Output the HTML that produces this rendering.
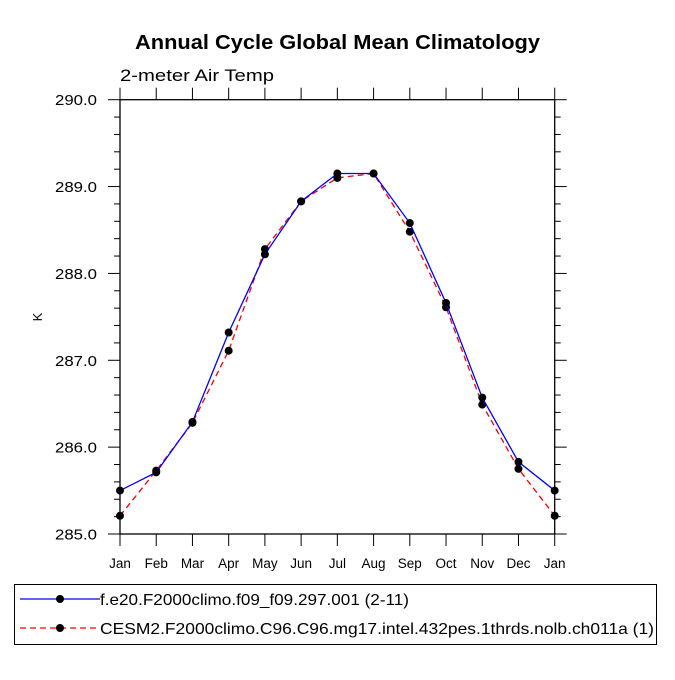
<!DOCTYPE html>
<html><head><meta charset="utf-8"><style>
body{margin:0;background:#fff;}
text{font-family:"Liberation Sans",Arial,sans-serif;}
</style></head><body>
<svg id="chart" width="675" height="675" viewBox="0 0 675 675" xmlns="http://www.w3.org/2000/svg">
<rect width="675" height="675" fill="#fff"/>
<text x="135" y="49" font-size="20" font-weight="bold" textLength="405" lengthAdjust="spacingAndGlyphs">Annual Cycle Global Mean Climatology</text>
<text x="120" y="81" font-size="17" textLength="154" lengthAdjust="spacingAndGlyphs">2-meter Air Temp</text>
<text x="0" y="0" font-size="13" text-anchor="middle" transform="translate(42,317) rotate(-90)">K</text>
<g id="axes"></g>
<g id="series"></g>
<rect x="14.5" y="584.5" width="642" height="60" fill="none" stroke="#000" stroke-width="1"/>
<g>
<line x1="20" y1="599" x2="100" y2="599" stroke="#0000ff" stroke-width="1.3"/>
<circle cx="60" cy="599" r="4" fill="#000"/>
<text x="100" y="605" font-size="16" textLength="309" lengthAdjust="spacingAndGlyphs">f.e20.F2000climo.f09_f09.297.001 (2-11)</text>
</g>
<g>
<line x1="20" y1="628" x2="100" y2="628" stroke="#ff0000" stroke-width="1.3" stroke-dasharray="6,4"/>
<circle cx="60" cy="628" r="4" fill="#000"/>
<text x="100" y="634" font-size="16" textLength="554" lengthAdjust="spacingAndGlyphs">CESM2.F2000climo.C96.C96.mg17.intel.432pes.1thrds.nolb.ch011a (1)</text>
</g>
</svg>
<script>
const months = ["Jan","Feb","Mar","Apr","May","Jun","Jul","Aug","Sep","Oct","Nov","Dec","Jan"];
const blueValues = [285.50,285.71,286.29,287.32,288.22,288.83,289.15,289.15,288.58,287.66,286.57,285.83,285.50];
const redValues = [285.21,285.73,286.28,287.11,288.28,288.83,289.10,289.15,288.48,287.61,286.49,285.75,285.21];
const yTickLabels = ["285.0","286.0","287.0","288.0","289.0","290.0"];
const yMin = 285, yMax = 290;
const L=120, R=554.7, T=99.7, B=534;
const NS="http://www.w3.org/2000/svg";
function xs(i){return L+(R-L)*i/(months.length-1);}
function ys(v){return B-(B-T)*(v-yMin)/(yMax-yMin);}
function mk(tag,attrs,parent){const e=document.createElementNS(NS,tag);for(const k in attrs)e.setAttribute(k,attrs[k]);parent.appendChild(e);return e;}
const ax=document.getElementById('axes');
const frame=mk('rect',{x:L,y:T,width:R-L,height:B-T,fill:'none',stroke:'#000','stroke-width':1.3},ax);


months.forEach((m,i)=>{
  const x=xs(i);
  mk('line',{x1:x,y1:B,x2:x,y2:B+12,stroke:'#000','stroke-width':1},ax);
  mk('line',{x1:x,y1:T,x2:x,y2:T-12,stroke:'#000','stroke-width':1},ax);
  const t=mk('text',{x:x,y:568,'font-size':13.5,'text-anchor':'middle'},ax);
  t.textContent=m;
  
  
});
for(let k=0;k<=25;k++){
  const v=yMin+k*0.2, y=ys(v), major=k%5===0;
  const len=major?12:6;
  mk('line',{x1:L,y1:y,x2:L-len,y2:y,stroke:'#000','stroke-width':1},ax);
  mk('line',{x1:R,y1:y,x2:R+len,y2:y,stroke:'#000','stroke-width':1},ax);
}
yTickLabels.forEach(s=>{
  const t=mk('text',{x:L-23,y:ys(parseFloat(s))+5.5,'font-size':15,'text-anchor':'end',textLength:42,lengthAdjust:'spacingAndGlyphs'},ax);
  t.textContent=s;
  
  
});
const sg=document.getElementById('series');
function drawSeries(vals,color,dash,name){
  const g=mk('g',{},sg);
  
  
  const pts=vals.map((v,i)=>xs(i)+','+ys(v)).join(' ');
  const attrs={points:pts,fill:'none',stroke:color,'stroke-width':1.3};
  if(dash)attrs['stroke-dasharray']=dash;
  mk('polyline',attrs,g);
  vals.forEach((v,i)=>{
    const c=mk('circle',{cx:xs(i),cy:ys(v),r:4,fill:'#000'},g);
    
    
  });
}
drawSeries(redValues,'#ff0000','6,4','series-red');
drawSeries(blueValues,'#0000ff',null,'series-blue');
</script>
</body></html>
